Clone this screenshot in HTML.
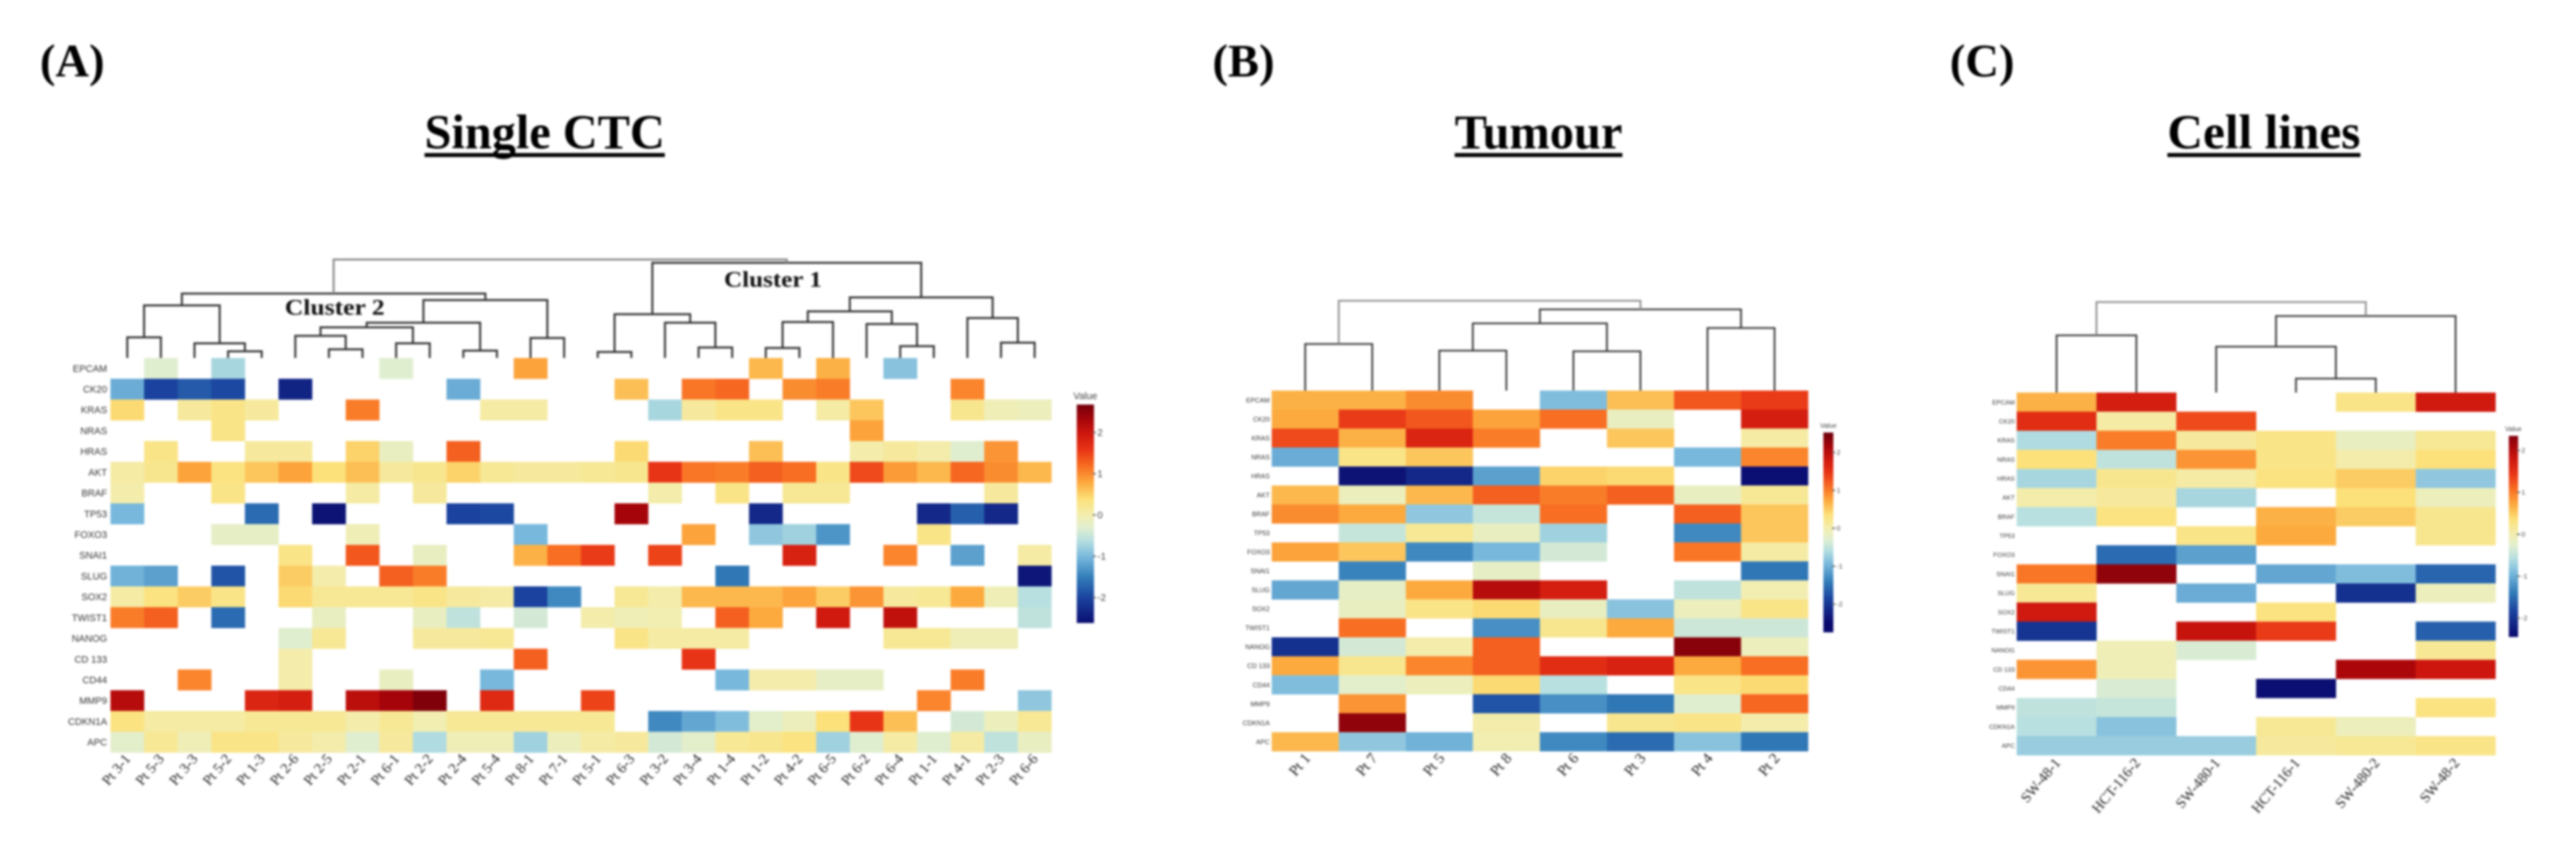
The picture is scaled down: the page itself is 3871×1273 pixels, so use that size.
<!DOCTYPE html>
<html lang="en">
<head>
<meta charset="utf-8">
<title>Heatmaps: Single CTC, Tumour, Cell lines</title>
<style>
  html, body { margin: 0; padding: 0; background: #fff; }
  body { width: 3871px; height: 1273px; overflow: hidden; }
  #figure { display: block; filter: blur(1.5px); }
  .panel-letter { font-family: "Liberation Serif", serif; font-weight: bold; font-size: 70px; fill: #000; }
  .panel-title { font-family: "Liberation Serif", serif; font-weight: bold; font-size: 73px; fill: #000; }
  .cluster-label { font-family: "Liberation Serif", serif; font-weight: bold; font-size: 34px; fill: #111; }
</style>
</head>
<body>
<svg id="figure" width="3871" height="1273" viewBox="0 0 3871 1273" xmlns="http://www.w3.org/2000/svg">
  <rect x="0" y="0" width="3871" height="1273" fill="#fff"/>
  <text class="panel-letter" x="60" y="115">(A)</text>
  <text class="panel-letter" x="1822" y="115">(B)</text>
  <text class="panel-letter" x="2930" y="115">(C)</text>

  <text class="panel-title" x="638" y="223" textLength="361" lengthAdjust="spacingAndGlyphs">Single CTC</text>
  <rect x="638" y="230" width="361" height="6" fill="#000"/>
  <text class="panel-title" x="2186" y="223" textLength="252" lengthAdjust="spacingAndGlyphs">Tumour</text>
  <rect x="2186" y="230" width="252" height="6" fill="#000"/>
  <text class="panel-title" x="3257" y="223" textLength="290" lengthAdjust="spacingAndGlyphs">Cell lines</text>
  <rect x="3257" y="230" width="290" height="6" fill="#000"/>

  <g id="panel-a"></g>
  <g id="panel-b"></g>
  <g id="panel-c"></g>

  <text class="cluster-label" x="428" y="473" textLength="150" lengthAdjust="spacingAndGlyphs">Cluster 2</text>
  <text class="cluster-label" x="1088" y="431" textLength="147" lengthAdjust="spacingAndGlyphs">Cluster 1</text>
</svg>

<script>
const genes = ["EPCAM","CK20","KRAS","NRAS","HRAS","AKT","BRAF","TP53","FOXO3","SNAI1","SLUG","SOX2","TWIST1","NANOG","CD 133","CD44","MMP9","CDKN1A","APC"];

const _ = null;

/* ---------- Panel A: Single CTC ---------- */
const ctcSamples = ["Pt 3-1","Pt 5-3","Pt 3-3","Pt 5-2","Pt 1-3","Pt 2-6","Pt 2-5","Pt 2-1","Pt 6-1","Pt 2-2","Pt 2-4","Pt 5-4","Pt 8-1","Pt 7-1","Pt 5-1","Pt 6-3","Pt 3-2","Pt 3-4","Pt 1-4","Pt 1-2","Pt 4-2","Pt 6-5","Pt 6-2","Pt 6-4","Pt 1-1","Pt 4-1","Pt 2-3","Pt 6-6"];
const ctcValues = [
  [_,-.3,_,-.7,_,_,_,_,-.3,_,_,_,.85,_,_,_,_,_,_,.7,_,.75,_,-.9,_,_,_,_],
  [-1.1,-2,-1.8,-1.95,_,-2.35,_,_,_,_,-1.1,_,_,_,_,.65,_,1.15,1.25,_,1,1.1,_,_,_,1.05,_,_],
  [.45,_,.15,.3,.15,_,_,1.1,_,_,_,.1,.1,_,_,_,-.7,.15,.3,.3,_,.1,.6,_,_,.25,-.05,-.1],
  [_,_,_,.3,_,_,_,_,_,_,_,_,_,_,_,_,_,_,_,_,_,_,.85,_,_,_,_,_],
  [_,.3,_,_,.15,.15,_,.5,-.15,_,1.3,_,_,_,_,.45,_,_,_,.65,_,_,.05,.15,.05,-.3,.95,_],
  [.1,.25,.85,.35,.6,.85,.4,.65,.15,.25,.5,.2,.15,.15,.2,.25,1.6,1.15,1.1,1.3,1.2,.3,1.45,.9,.7,1.25,1,.7],
  [.05,_,_,.3,_,_,_,.1,_,.15,_,_,_,_,_,_,.05,_,.3,_,.2,.2,_,_,_,_,.15,_],
  [-1,_,_,_,-1.65,_,-2.55,_,_,_,-2,-1.95,_,_,_,2.35,_,_,_,-2.3,_,_,_,_,-2.3,-1.75,-2.3,_],
  [_,_,_,-.2,-.2,_,_,-.05,_,_,_,_,-1,_,_,_,_,.85,_,-.85,-.75,-1.3,_,_,.3,_,_,_],
  [_,_,_,_,_,.3,_,1.35,_,-.15,_,_,.75,1.2,1.55,_,1.5,_,_,_,1.85,_,_,1.05,_,-1.2,_,.1],
  [-1.05,-1.2,_,-1.85,_,.55,.05,_,1.3,1.1,_,_,_,_,_,_,_,_,-1.55,_,_,_,_,_,_,_,_,-2.5],
  [.1,.35,.55,.3,_,.45,.2,.2,.2,.3,.15,.1,-2,-1.4,_,.2,.05,.7,.7,.7,.85,.55,.95,.15,.2,.8,-.05,-.6],
  [1.1,1.3,_,-1.65,_,_,-.15,_,_,-.15,-.55,_,-.4,_,.05,-.05,0,_,1.3,.8,_,1.95,_,2.1,_,_,_,-.55],
  [_,_,_,_,_,-.3,.2,_,_,.15,.15,.2,_,_,_,.3,.1,.1,.1,_,_,_,_,.2,.2,-.05,-.05,_],
  [_,_,_,_,_,.05,_,_,_,_,_,_,1.3,_,_,_,_,1.6,_,_,_,_,_,_,_,_,_,_],
  [_,_,1.05,_,_,.05,_,_,-.15,_,_,-1,_,_,_,_,_,_,-1,.05,.05,-.2,-.2,_,_,1.1,_,_],
  [2.2,_,_,_,1.8,1.9,_,2.15,2.35,2.6,_,1.75,_,_,1.5,_,_,_,_,_,_,_,_,_,1.05,_,_,-.85],
  [.35,.1,.1,.1,.2,.2,.2,.05,.2,0,.2,.2,.2,.2,.2,_,-1.4,-1.15,-.95,-.25,-.1,.4,1.6,.65,_,-.4,-.1,.2],
  [-.25,.2,-.05,.3,.3,.15,.05,-.3,.15,-.65,-.05,-.05,-.75,-.1,.1,.15,-.4,-.25,.2,.25,.35,-.75,-.3,.1,-.3,.1,-.55,-.15]
];
/* linkage: [nodeA, nodeB, height]; ids below sample count are leaves, id = count + k is the k-th merge */
const ctcMerges = [
  [0,1,31],[3,4,10],[2,29,22],[28,30,79],
  [6,7,13],[5,32,33.3],[8,9,22],[33,34,46],[10,11,11],[35,36,53],[12,13,30],[37,38,87],[31,39,96.7],
  [14,15,9],[17,18,15.7],[16,42,53],[41,43,65.7],
  [19,20,15],[45,21,54],[23,24,17.7],[22,47,51],[46,48,70],[26,27,23],[25,50,60],[49,51,91],[44,52,143],
  [40,53,148]
];

/* ---------- Panel B: Tumour ---------- */
const tumourSamples = ["Pt 1","Pt 7","Pt 5","Pt 8","Pt 6","Pt 3","Pt 4","Pt 2"];
const tumourValues = [
  [.75,.75,1,_,-.95,.65,1.35,1.55],
  [.8,1.55,1.35,.85,1.2,-.15,_,1.9],
  [1.45,.75,1.8,1.1,_,.6,_,.1],
  [-1.1,.3,.6,_,_,_,-1,1.05],
  [_,-2.55,-2.3,-1.2,.5,.45,_,-2.6],
  [.7,-.1,.7,1.3,1.1,1.3,-.15,.2],
  [1,.8,-.85,-.5,1.2,_,1.3,.6],
  [_,-.5,.2,-.15,-.75,_,-1.4,.6],
  [.85,.6,-1.4,-1,-.4,_,1.15,.1],
  [_,-1.45,_,-.2,_,_,_,-1.55],
  [-1.15,-.2,.8,2.2,1.9,_,-.55,0],
  [_,-.15,.3,.45,-.15,-.9,-.1,.3],
  [_,1.2,_,-1.35,.25,.8,-.45,-.45],
  [-2.2,-.4,.05,1.3,_,_,2.55,-.1],
  [.8,.25,1.05,1.3,1.7,1.85,.8,1.2],
  [-.95,-.25,-.1,.45,-.6,_,.3,.45],
  [_,.95,_,-1.85,-1.35,-1.55,-.3,1.25],
  [_,2.5,_,.05,_,.25,.3,.05],
  [.7,-.85,-1.05,0,-1.4,-1.65,-.9,-1.55]
];
const tumourMerges = [[0,1,70],[2,3,60],[4,5,59],[6,7,94],[9,10,101],[12,11,122],[8,13,135]];

/* ---------- Panel C: Cell lines ---------- */
const cellSamples = ["SW-48-1","HCT-116-2","SW-480-1","HCT-116-1","SW-480-2","SW-48-2"];
const cellValues = [
  [.75,1.9,_,_,.3,1.95],
  [1.7,.1,1.45,_,_,_],
  [-.65,1.1,.15,.3,-.15,.2],
  [.4,-.55,.95,.3,.05,.4],
  [-.7,.25,.1,.35,.55,-.85],
  [.05,.15,-.7,_,.4,-.1],
  [-.6,.35,_,.75,.55,.25],
  [_,_,.3,.8,_,.25],
  [_,-1.65,-1.2,_,_,_],
  [1.15,2.5,_,-1.15,-.95,-1.7],
  [.2,_,-1.1,_,-2.2,-.1],
  [1.95,_,_,.35,_,_],
  [-2.15,_,2.05,1.55,_,-1.75],
  [_,-.05,-.35,_,_,.2],
  [.95,-.05,_,_,2.3,2],
  [_,-.35,_,-2.6,_,_],
  [-.55,-.5,_,_,_,.35],
  [-.6,-.9,_,.2,-.1,_],
  [-.8,-.8,-.8,.15,.2,.3]
];
const cellMerges = [[0,1,86],[3,4,21],[2,7,69],[8,5,115],[6,9,136]];

const colorbarTicks = [2,1,0,-1,-2];

/* colour map */
const COLOR_STOPS = [
  [-2.65,[10,10,110]],[-2,[26,66,158]],[-1.5,[50,125,185]],[-1,[120,184,220]],[-.6,[184,224,224]],
  [-.3,[224,238,208]],[0,[242,238,178]],[.4,[252,225,122]],[.8,[252,170,62]],[1.2,[248,110,34]],
  [1.6,[232,52,22]],[2,[204,22,14]],[2.35,[165,5,10]],[2.7,[115,0,12]]
];
function colorFor(v) {
  if (v <= COLOR_STOPS[0][0]) return 'rgb(' + COLOR_STOPS[0][1].join(',') + ')';
  for (let i = 1; i < COLOR_STOPS.length; i++) {
    const a = COLOR_STOPS[i - 1], b = COLOR_STOPS[i];
    if (v <= b[0]) {
      const t = (v - a[0]) / (b[0] - a[0]);
      const c = a[1].map((x, k) => Math.round(x + (b[1][k] - x) * t));
      return 'rgb(' + c.join(',') + ')';
    }
  }
  return 'rgb(' + COLOR_STOPS[COLOR_STOPS.length - 1][1].join(',') + ')';
}

const NS = 'http://www.w3.org/2000/svg';
function mk(parent, tag, attrs, text) {
  const el = document.createElementNS(NS, tag);
  for (const k in attrs) el.setAttribute(k, attrs[k]);
  if (text !== undefined) el.textContent = text;
  parent.appendChild(el);
  return el;
}

function drawPanel(cfg) {
  const root = document.getElementById(cfg.id);
  const nCols = cfg.samples.length, nRows = genes.length;
  const colW = (cfg.right - cfg.left) / nCols, rowH = (cfg.bottom - cfg.top) / nRows;
  const xEdge = i => cfg.left + colW * i;
  const xMid = i => cfg.left + colW * (i + 0.5);
  const yEdge = r => cfg.top + rowH * r;
  const yMid = r => cfg.top + rowH * (r + 0.5);
  const yHeight = h => cfg.top - h;

  /* heatmap cells */
  cfg.values.forEach((row, r) => {
    row.forEach((v, c) => {
      if (v === null) return;
      const cell = mk(root, 'rect', { x: xEdge(c), y: yEdge(r), width: colW + 0.3, height: rowH + 0.3, fill: colorFor(v) });
      
      
    });
  });

  /* gene labels */
  genes.forEach((g, r) => {
    const t = mk(root, 'text', { x: cfg.left - cfg.rowGap, y: yMid(r) + cfg.rowFont * 0.36, 'text-anchor': 'end',
      'font-family': '"Liberation Sans", sans-serif', 'font-size': cfg.rowFont, fill: '#333' }, g);
    
    
  });

  /* sample labels */
  cfg.samples.forEach((s, c) => {
    const px = xMid(c) + cfg.tickDx, py = cfg.bottom + cfg.tickDy;
    const t = mk(root, 'text', { x: px, y: py, 'text-anchor': 'end', transform: 'rotate(-50 ' + px + ' ' + py + ')',
      'font-family': '"Liberation Serif", serif', 'font-size': cfg.tickFont, fill: '#222' }, s);
    
    
  });

  /* dendrogram */
  const nodes = cfg.samples.map((s, i) => ({ x: xMid(i), h: 0 }));
  cfg.merges.forEach((m, idx) => {
    const a = nodes[m[0]], b = nodes[m[1]];
    const isRoot = idx === cfg.merges.length - 1;
    const yA = yHeight(a.h), yB = yHeight(b.h), yT = yHeight(m[2]);
    const d = 'M' + a.x + ' ' + yA + 'V' + yT + 'H' + b.x + 'V' + yB;
    const line = mk(root, 'path', { d: d, fill: 'none', stroke: isRoot ? '#8a8a8a' : '#333', 'stroke-width': cfg.lineW });
    
    
    nodes.push({ x: (a.x + b.x) / 2, h: m[2] });
  });

  /* colour bar */
  const cb = cfg.bar;
  const yVal = v => cb.y0 - (v * cb.unit);
  const barH = cb.bottom - cb.top;
  for (let py = 0; py < barH; py += 2) {
    const v = (cb.y0 - (cb.top + py)) / cb.unit;
    const strip = mk(root, 'rect', { x: cb.left, y: cb.top + py, width: cb.width, height: 2.4, fill: colorFor(v * cb.stretch) });
    
    
  }
  const title = mk(root, 'text', { x: cb.left + cb.width / 2, y: cb.top - cb.titleGap, 'text-anchor': 'middle',
    'font-family': '"Liberation Sans", sans-serif', 'font-size': cb.font, fill: '#444' }, 'Value');
  
  
  colorbarTicks.forEach(v => {
    const tick = mk(root, 'rect', { x: cb.left + cb.width - 2, y: yVal(v) - 1, width: 5, height: 2, fill: '#666' });
    
    
    const lab = mk(root, 'text', { x: cb.left + cb.width + 5, y: yVal(v) + cb.font * 0.36,
      'font-family': '"Liberation Sans", sans-serif', 'font-size': cb.font, fill: '#444' }, String(v));
    
    
  });
}

drawPanel({
  id: 'panel-a', samples: ctcSamples, values: ctcValues, merges: ctcMerges,
  left: 166, right: 1580, top: 538, bottom: 1131,
  rowFont: 14.5, rowGap: 5, tickFont: 22, tickDx: 6, tickDy: 10, lineW: 3,
  bar: { left: 1618, width: 26, top: 608, bottom: 935, y0: 774, unit: 62, stretch: 1, titleGap: 8, font: 14.5 }
});
drawPanel({
  id: 'panel-b', samples: tumourSamples, values: tumourValues, merges: tumourMerges,
  left: 1911, right: 2717, top: 587, bottom: 1129,
  rowFont: 10, rowGap: 3, tickFont: 23, tickDx: 9, tickDy: 11, lineW: 2.6,
  bar: { left: 2740, width: 15, top: 650, bottom: 950, y0: 794, unit: 57, stretch: 1.08, titleGap: 7, font: 10 }
});
drawPanel({
  id: 'panel-c', samples: cellSamples, values: cellValues, merges: cellMerges,
  left: 3030.5, right: 3750, top: 590, bottom: 1135,
  rowFont: 9.5, rowGap: 3, tickFont: 22, tickDx: 7, tickDy: 12, lineW: 2.6,
  bar: { left: 3770, width: 14, top: 655, bottom: 956, y0: 803, unit: 63, stretch: 1.1, titleGap: 7, font: 10 }
});
</script>
</body>
</html>
